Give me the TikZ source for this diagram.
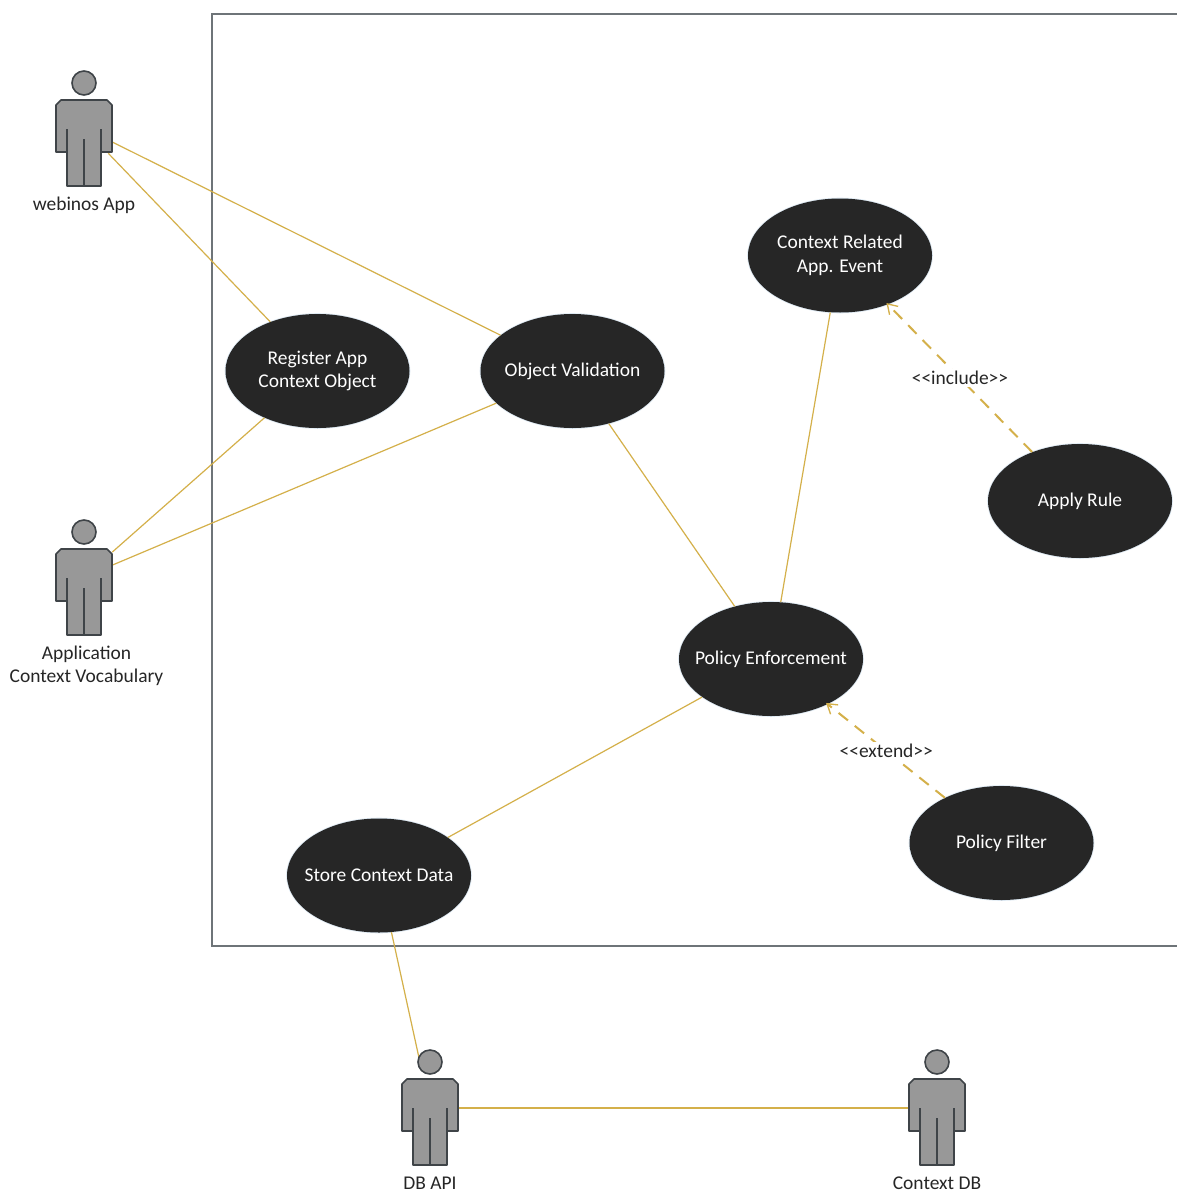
\documentclass[tikz,border=0pt]{standalone}
\usepackage{fontspec}
\setmainfont{Carlito}
\usetikzlibrary{shapes.geometric,arrows.meta}
\definecolor{usecase}{HTML}{262626}
\definecolor{halo}{HTML}{DCE8F2}
\definecolor{link}{HTML}{D4B04A}
\definecolor{framec}{HTML}{6E7478}
\definecolor{actorfill}{HTML}{989898}
\definecolor{actorline}{HTML}{3F4448}
\tikzset{
  usecasenode/.style={ellipse,fill=usecase,preaction={draw=halo,line width=1.2pt},text=white,minimum width=138pt,minimum height=85.5pt,inner xsep=-20pt,inner ysep=-10pt,align=center,font=\fontsize{14.6}{17.6}\selectfont},
  actoranchor/.style={rectangle,draw=none,minimum width=42pt,minimum height=37.5pt,inner sep=0pt},
  actorlabel/.style={align=center,text=black!85,font=\fontsize{14.6}{17.6}\selectfont,inner sep=0pt},
  assoc/.style={draw=link,line width=0.9pt},
  dep/.style={draw=link,line width=1.5pt,dash pattern=on 9pt off 6.5pt,shorten >=-1.5pt,-{Straight Barb[length=7pt,width=9pt,line width=1pt]}},
  deplabel/.style={fill=white,inner sep=1.5pt,text=black!85,font=\fontsize{14.6}{17.6}\selectfont},
  actorshape/.style={draw=actorline,fill=actorfill,line width=1.2pt,line join=round},
  actorinner/.style={draw=actorline,line width=1.2pt},
  pics/actorfig/.style={code={
    \draw[actorshape] (0,-45) circle (12);
    \draw[actorshape] (-23,-28) -- (23,-28) -- (28,-23) -- (28,24) -- (17,24) -- (17,58) -- (-17,58) -- (-17,24) -- (-28,24) -- (-28,-23) -- cycle;
    \draw[actorinner] (-17,1) -- (-17,24);
    \draw[actorinner] (17,1) -- (17,24);
    \draw[actorinner] (0,11) -- (0,58);
  }}
}
\begin{document}
\begin{tikzpicture}[x=0.75pt,y=-0.75pt]
\useasboundingbox (0,0) rectangle (1177,1192);
\fill[white] (0,0) rectangle (1177,1192);
\draw[framec,line width=1.5pt] (1177,14) -- (212,14) -- (212,946) -- (1177,946);
\node[actoranchor] (webinos) at (84,128) {};
\node[actoranchor] (vocab) at (84,577) {};
\node[actoranchor] (dbapi) at (430,1108) {};
\node[actoranchor] (contextdb) at (937,1108) {};
\node[usecasenode] (register) at (317.5,371) {Register App\\Context Object};
\node[usecasenode] (objval) at (572.5,371) {Object Validation};
\node[usecasenode] (related) at (840,255.5) {Context Related\\App. Event};
\node[usecasenode] (rule) at (1080,501) {Apply Rule};
\node[usecasenode] (policy) at (771,659) {Policy Enforcement};
\node[usecasenode] (filter) at (1001.5,843) {Policy Filter};
\node[usecasenode] (store) at (379,875.5) {Store Context Data};
\draw[assoc] (webinos) -- (register);
\draw[assoc] (webinos) -- (objval);
\draw[assoc] (vocab) -- (register);
\draw[assoc] (vocab) -- (objval);
\draw[assoc] (objval) -- (policy);
\draw[assoc] (policy) -- (related);
\draw[assoc] (store) -- (policy);
\draw[assoc,shorten >=15pt] (store) -- (dbapi);
\draw[assoc,line width=1.2pt] (dbapi) -- (contextdb);
\draw[dep] (rule) -- node[deplabel] (inclabel) {{<}{<}include{>}{>}} (related);
\draw[dep] (filter) -- node[deplabel] (extlabel) {{<}{<}extend{>}{>}} (policy);
\pic at (84,128) {actorfig};
\pic at (84,577) {actorfig};
\pic at (430,1107) {actorfig};
\pic at (937,1107) {actorfig};
\node[actorlabel] (lab1) at (84,205) {webinos App};
\node[actorlabel] (lab2) at (86.5,666) {Application\\Context Vocabulary};
\node[actorlabel] (lab3) at (430,1183) {DB API};
\node[actorlabel] (lab4) at (937,1183) {Context DB};
\end{tikzpicture}
\end{document}
